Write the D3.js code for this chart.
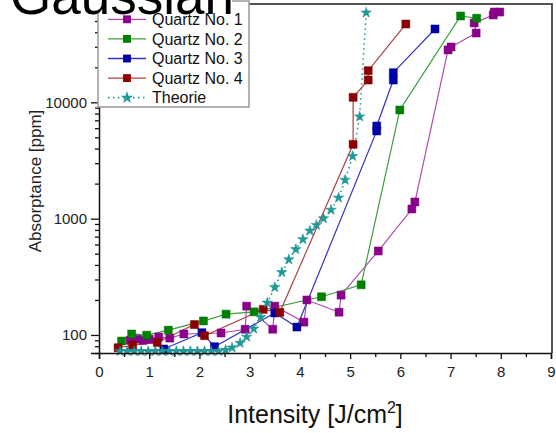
<!DOCTYPE html>
<html><head><meta charset="utf-8">
<script src="https://cdn.jsdelivr.net/npm/d3@7"></script>
<style>
html,body{margin:0;padding:0;background:#fff;}
svg{display:block;font-family:"Liberation Sans",Arial,sans-serif;}
</style></head>
<body>
<svg id="chart" width="556" height="433"></svg>
<script>
// ---- data ----
const seriesNames = ["Quartz No. 1","Quartz No. 2","Quartz No. 3","Quartz No. 4","Theorie"];
const q1X = [0.62,0.76,0.88,1.0,1.19,1.41,1.69,2.43,2.91,2.94,3.46,3.5,4.08,4.14,4.78,4.82,5.56,6.23,6.29,6.95,7.01,7.51,7.47,7.85,7.87,7.98];
const q1Y = [90,92,90,92,96,94,102,104,112,177,112,177,129,200,157,220,527,1210,1390,28200,29900,39400,48100,56300,59700,59700];
const q2X = [0.45,0.65,0.95,1.38,2.08,2.53,3.09,4.43,5.22,5.99,7.2,7.52];
const q2Y = [88.7,102,99.6,110,132,151,158,213,270,8590,55200,52800];
const q3X = [1.29,2.05,2.3,3.5,3.94,5.53,5.53,5.86,5.86,6.69];
const q3Y = [75.8,104.6,79.3,154.5,117,5670,6260,15540,17980,42700];
const q4X = [0.38,0.67,1.16,1.9,2.1,3.27,3.6,5.06,5.06,5.36,5.36,6.11];
const q4Y = [77.7,81.6,86.2,123,98.6,166,156.6,4355,11045,15540,18700,47100];
const thX = [0.42,0.56,0.70,0.84,0.98,1.12,1.26,1.40,1.54,1.68,1.82,1.96,2.10,2.24,2.38,2.52,2.65,2.81,2.94,3.08,3.22,3.35,3.5,3.64,3.78,3.92,4.06,4.2,4.33,4.47,4.62,4.77,4.9,5.05,5.19,5.32];
const thY = [72.5,72.5,72.5,72.5,72.5,72.5,72.5,72.5,72.5,72.5,72.5,72.5,72.5,72.5,72.5,74.2,77.8,85.2,96.3,113,142,189,257,346,445,545,664,787,880,1004,1188,1512,2150,3445,7530,58900];
const xTicks = [0,1,2,3,4,5,6,7,8,9];
const yTicks = [100,1000,10000];
const xTitle = "Intensity [J/cm";
const yTitle = "Absorptance [ppm]";
const chartTitle = "Gaussian";

// ---- styles ----
const styles = [
  {line:"#b048b0", mark:"#8b008b", sym:d3.symbolSquare, dash:null},
  {line:"#3c9e3c", mark:"#008000", sym:d3.symbolSquare, dash:null},
  {line:"#3434c4", mark:"#0000a8", sym:d3.symbolSquare, dash:null},
  {line:"#b04040", mark:"#8b0000", sym:d3.symbolSquare, dash:null},
  {line:"#1e9a9a", mark:"#1e9a9a", sym:d3.symbolStar, dash:"1.5,3.5"}
];
const series = [[q1X,q1Y],[q2X,q2Y],[q3X,q3Y],[q4X,q4Y],[thX,thY]].map(([xs,ys])=>xs.map((x,i)=>({x,y:ys[i]})));

const svg = d3.select("#chart");
const L=99, R=551, T=4, B=353;
const x = d3.scaleLinear().domain([0,9]).range([L,R]);
const y = d3.scaleLog().domain([70,70000]).range([B,T]);

// frame (top & right)
svg.append("path").attr("d",`M${L},${T}H${R+1}V${B}`).attr("fill","none").attr("stroke","#555").attr("stroke-width",2);

// series
const line = d3.line().x(d=>x(d.x)).y(d=>y(d.y));
series.forEach((s,i)=>{
  const st = styles[i];
  svg.append("path").datum(s).attr("d",line).attr("fill","none")
    .attr("stroke",st.line).attr("stroke-width",i===4?1.6:1.2)
    .attr("stroke-dasharray",st.dash);
});
series.forEach((s,i)=>{
  const st = styles[i];
  const sym = d3.symbol().type(st.sym).size(i===4?34:64);
  svg.append("g").selectAll("path").data(s).join("path")
    .attr("transform",d=>`translate(${x(d.x)},${y(d.y)})`)
    .attr("d",sym).attr("fill",st.mark).attr("stroke",d3.color(st.mark).darker(0.3)).attr("stroke-width",0.5);
});

// axes
const fs = 15;
svg.append("g").attr("transform",`translate(0,${B})`)
  .call(d3.axisBottom(x).tickValues(xTicks).tickSize(6).tickPadding(7).tickFormat(d3.format("d")));
svg.append("g").attr("transform",`translate(0,${B})`)
  .call(d3.axisBottom(x).tickValues(d3.range(0.5,9,1)).tickSize(4).tickFormat(""))
  .call(g=>g.select(".domain").remove());
const minorY = [];
[10,100,1000,10000].forEach(dec=>{for(let k=2;k<=9;k++){const v=k*dec; if(v>=70&&v<=70000&&!yTicks.includes(v)) minorY.push(v);}});
svg.append("g").attr("transform",`translate(${L},0)`)
  .call(d3.axisLeft(y).tickValues(minorY).tickSize(4).tickFormat(""))
  .call(g=>g.select(".domain").remove());
svg.append("g").attr("transform",`translate(${L},0)`)
  .call(d3.axisLeft(y).tickValues(yTicks).tickSize(8).tickPadding(4).tickFormat(d3.format("d")));
svg.selectAll(".tick line").attr("stroke","#111").attr("stroke-width",1.3);
svg.selectAll(".domain").attr("stroke","#111").attr("stroke-width",1.5);
svg.selectAll(".tick text").attr("font-size",fs).attr("font-family","Liberation Sans, Arial, sans-serif").attr("fill","#222");

// axis titles
const xt = svg.append("text").attr("x",315).attr("y",423).attr("text-anchor","middle")
  .attr("font-size",25).attr("fill","#111");
xt.append("tspan").text(xTitle);
xt.append("tspan").attr("font-size",16).attr("dy",-10).text("2");
xt.append("tspan").attr("dy",10).text("]");
svg.append("text").attr("transform","translate(41,181) rotate(-90)").attr("text-anchor","middle")
  .attr("font-size",17).attr("fill","#222").text(yTitle);

// legend
const lg = svg.append("g");
lg.append("rect").attr("x",98).attr("y",1).attr("width",151).attr("height",106)
  .attr("fill","#fff").attr("stroke","#9a9a9a").attr("stroke-width",1.5);
seriesNames.forEach((n,i)=>{
  const st = styles[i];
  const cy = 19.3 + i*19.6;
  lg.append("line").attr("x1",108).attr("x2",146).attr("y1",cy).attr("y2",cy)
    .attr("stroke",st.line).attr("stroke-width",i===4?1.8:1.3).attr("stroke-dasharray",st.dash);
  lg.append("path").attr("transform",`translate(127,${cy})`)
    .attr("d",d3.symbol().type(st.sym).size(i===4?50:62)).attr("fill",st.mark);
  lg.append("text").attr("x",152).attr("y",cy).attr("dy","0.36em").attr("font-size",16)
    .attr("fill","#111").text(n);
});

// clipped title
svg.append("rect").attr("x",0).attr("y",0).attr("width",232).attr("height",12.5).attr("fill","#fff");
svg.append("text").attr("x",10).attr("y",13.5).attr("font-size",53).attr("fill","#000").text(chartTitle);
</script>
</body></html>
